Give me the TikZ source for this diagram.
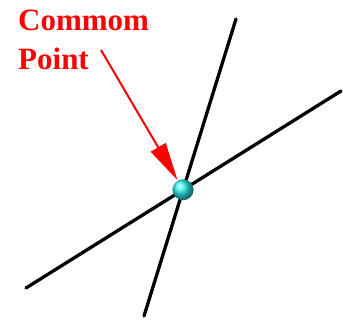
\documentclass[tikz,border=0pt]{standalone}
\usepackage{fontspec}
\setmainfont{Liberation Serif}
\usetikzlibrary{arrows.meta}
\definecolor{PtRed}{RGB}{255,0,0}
\definecolor{PtCyan}{RGB}{40,235,235}

\begin{document}
\begin{tikzpicture}[x=1pt, y=1pt,
          line/.style={line width=3.3pt, black, line cap=round},
          ball/.style={circle, minimum size=21pt, inner sep=0pt,
                       shading=ball, ball color=PtCyan},
          lbl/.style={text=PtRed, font=\fontsize{31}{39}\selectfont\bfseries,
                      align=left, inner sep=0pt},
          arr/.style={-{Triangle[length=38pt, width=17pt]}, line width=2pt, PtRed}
        ]
        \useasboundingbox (0,0) rectangle (343,320);

        % Line ends
        \coordinate (a1) at (144,4);
        \coordinate (a2) at (236,301);
        \coordinate (b1) at (26,32);
        \coordinate (b2) at (341,229);

        % Lines
        \draw[line] (a1) -- (a2);
        \draw[line] (b1) -- (b2);

        % Common point
        \node[ball] (pt) at (intersection of a1--a2 and b1--b2) {};

        % Label
        \node[lbl, anchor=north west] (txt) at (18,310) {Commom\\Point};
        \coordinate (tail) at (101,270);
        \draw[arr, shorten >=0.5pt] (tail) -- (pt);
\end{tikzpicture}
\end{document}
